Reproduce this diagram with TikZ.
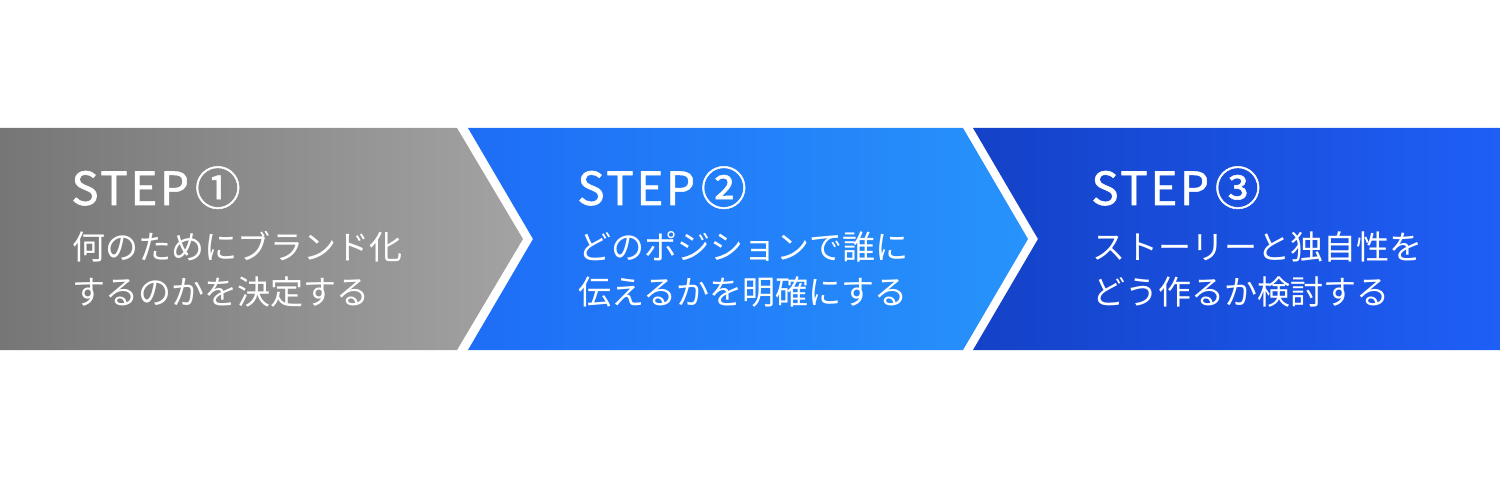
\documentclass[tikz,border=0pt]{standalone}
\usepackage{fontspec}
\usepackage{tikz}
\usetikzlibrary{positioning}
\setmainfont{Noto Sans CJK JP}
\newfontfamily\stepfont[LetterSpace=6, FakeBold=1.2]{Noto Sans CJK JP}
\definecolor{grayL}{HTML}{767676}
\definecolor{grayR}{HTML}{A2A3A2}
\definecolor{blueL}{HTML}{1E6DF6}
\definecolor{blueR}{HTML}{2793FB}
\definecolor{navyL}{HTML}{1441C7}
\definecolor{navyR}{HTML}{1F5FF6}
\tikzstyle{steptitle} = [anchor=base west, inner sep=0pt, text=white, font=\stepfont\fontsize{26}{30}\selectfont]
\tikzstyle{stepdesc} = [anchor=base west, inner sep=0pt, text=white, align=left, font=\fontsize{18.8}{25.8}\selectfont]

\begin{document}
\begin{tikzpicture}[x=0.02cm, y=-0.02cm]

    \useasboundingbox (0, 0) rectangle (1500, 479);

    \shade [left color=grayL, right color=grayR] (0, 128) -- (457, 128) -- (523, 239) -- (457, 350) -- (0, 350) -- cycle;
    \shade [left color=blueL, right color=blueR] (468, 128) -- (963, 128) -- (1028, 239) -- (963, 350) -- (468, 350) -- (533, 239) -- cycle;
    \shade [left color=navyL, right color=navyR] (973, 128) -- (1500, 128) -- (1500, 350) -- (973, 350) -- (1038, 239) -- cycle;

    \node (title1) [steptitle] at (71, 205) {STEP\hspace{0.12cm}①};
    \node (desc1) [stepdesc] at (72, 305) {何のためにブランド化\\するのかを決定する};

    \node (title2) [steptitle] at (577, 205) {STEP\hspace{0.12cm}②};
    \node (desc2) [stepdesc] at (578, 305) {どのポジションで誰に\\伝えるかを明確にする};

    \node (title3) [steptitle] at (1091, 205) {STEP\hspace{0.12cm}③};
    \node (desc3) [stepdesc] at (1092, 305) {ストーリーと独自性を\\どう作るか検討する};

\end{tikzpicture}
\end{document}
